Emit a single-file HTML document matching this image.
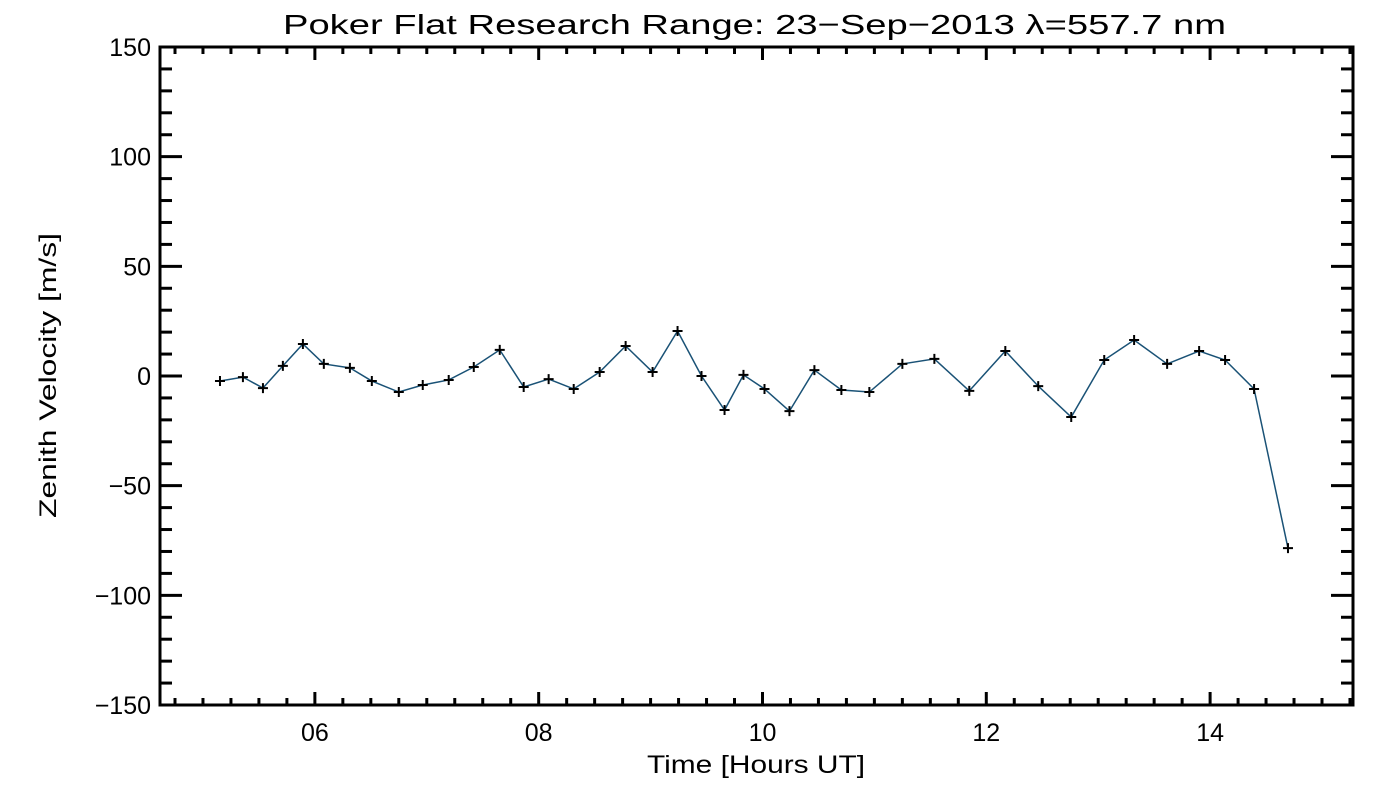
<!DOCTYPE html>
<html><head><meta charset="utf-8"><style>
body{margin:0;background:#fff;width:1400px;height:800px;overflow:hidden}
svg text{font-family:"Liberation Sans",sans-serif;fill:#000}
</style></head><body>
<svg id="chart" width="1400" height="800" viewBox="0 0 1400 800" xmlns="http://www.w3.org/2000/svg">
<text x="283" y="34" font-size="28" textLength="943" lengthAdjust="spacingAndGlyphs">Poker Flat Research Range: 23−Sep−2013 λ=557.7 nm</text>
<text x="647" y="773" font-size="25" textLength="218" lengthAdjust="spacingAndGlyphs">Time [Hours UT]</text>
<text transform="translate(56,518) rotate(-90)" font-size="24" textLength="285" lengthAdjust="spacingAndGlyphs">Zenith Velocity [m/s]</text>
<g id="axes"></g>
<g id="series"></g>
</svg>
<script>
const hours=[5.152,5.357,5.536,5.714,5.893,6.080,6.313,6.509,6.75,6.964,7.196,7.42,7.652,7.866,8.089,8.313,8.545,8.777,9.018,9.241,9.455,9.661,9.83,10.018,10.241,10.464,10.705,10.955,11.25,11.536,11.848,12.17,12.464,12.759,13.054,13.321,13.616,13.902,14.134,14.393,14.696];
const velocity=[-2.3,-0.5,-5.5,4.6,14.6,5.5,3.7,-2.3,-7.3,-4.1,-1.8,4.1,11.9,-5.0,-1.4,-5.9,1.8,13.7,1.8,20.5,0,-15.5,0.5,-5.9,-16,2.7,-6.4,-7.3,5.5,7.8,-6.8,11.4,-4.6,-18.7,7.3,16.4,5.5,11.4,7.3,-5.9,-78.5];
const xTicks=[6,8,10,12,14];
const xTickLabels=["06","08","10","12","14"];
const yTicks=[-150,-100,-50,0,50,100,150];
const yTickLabels=["−150","−100","−50","0","50","100","150"];
const xMin=4.616,xMax=15.277,yMin=-150,yMax=150;
const L=160,R=1353,T=47,B=705;
const X=v=>L+(v-xMin)/(xMax-xMin)*(R-L);
const Y=v=>B-(v-yMin)/(yMax-yMin)*(B-T);
const NS="http://www.w3.org/2000/svg";
function mk(tag,attrs,parent){const e=document.createElementNS(NS,tag);for(const k in attrs)e.setAttribute(k,attrs[k]);parent.appendChild(e);return e;}
const ax=document.getElementById('axes');
const frame=mk('rect',{x:L,y:T,width:R-L,height:B-T,fill:'none',stroke:'#000','stroke-width':3},ax);


for(let v=Math.ceil(xMin*4)/4;v<=xMax;v+=0.25){
  const major=Math.abs(v-Math.round(v))<1e-6&&Math.round(v)%2===0;
  const len=major?13:7,x=X(v);
  const t1=mk('line',{x1:x,x2:x,y1:B,y2:B-len,stroke:'#000','stroke-width':3},ax);
  
  
  const t2=mk('line',{x1:x,x2:x,y1:T,y2:T+len,stroke:'#000','stroke-width':3},ax);
  
  
}
xTicks.forEach((v,i)=>{
  const t=mk('text',{x:X(v),y:B+36,'font-size':25,'text-anchor':'middle'},ax);
  t.textContent=xTickLabels[i];
  
  
});
for(let v=yMin;v<=yMax;v+=10){
  const major=v%50===0;const len=major?22:12,y=Y(v);
  const t1=mk('line',{x1:L,x2:L+len,y1:y,y2:y,stroke:'#000','stroke-width':3},ax);
  
  
  const t2=mk('line',{x1:R,x2:R-len,y1:y,y2:y,stroke:'#000','stroke-width':3},ax);
  
  
}
yTicks.forEach((v,i)=>{
  const t=mk('text',{x:L-9,y:Y(v)+9,'font-size':25,'text-anchor':'end'},ax);
  t.textContent=yTickLabels[i];
  
  
});
const sg=document.getElementById('series');
const pts=hours.map((h,i)=>X(h)+','+Y(velocity[i])).join(' ');
const line=mk('polyline',{points:pts,fill:'none',stroke:'#1a5276','stroke-width':1.5},sg);


hours.forEach((h,i)=>{
  const x=X(h),y=Y(velocity[i]);
  const p=mk('path',{d:`M${x-5},${y}H${x+5}M${x},${y-5}V${y+5}`,stroke:'#000','stroke-width':2},sg);
  
  
});
</script>
</body></html>
